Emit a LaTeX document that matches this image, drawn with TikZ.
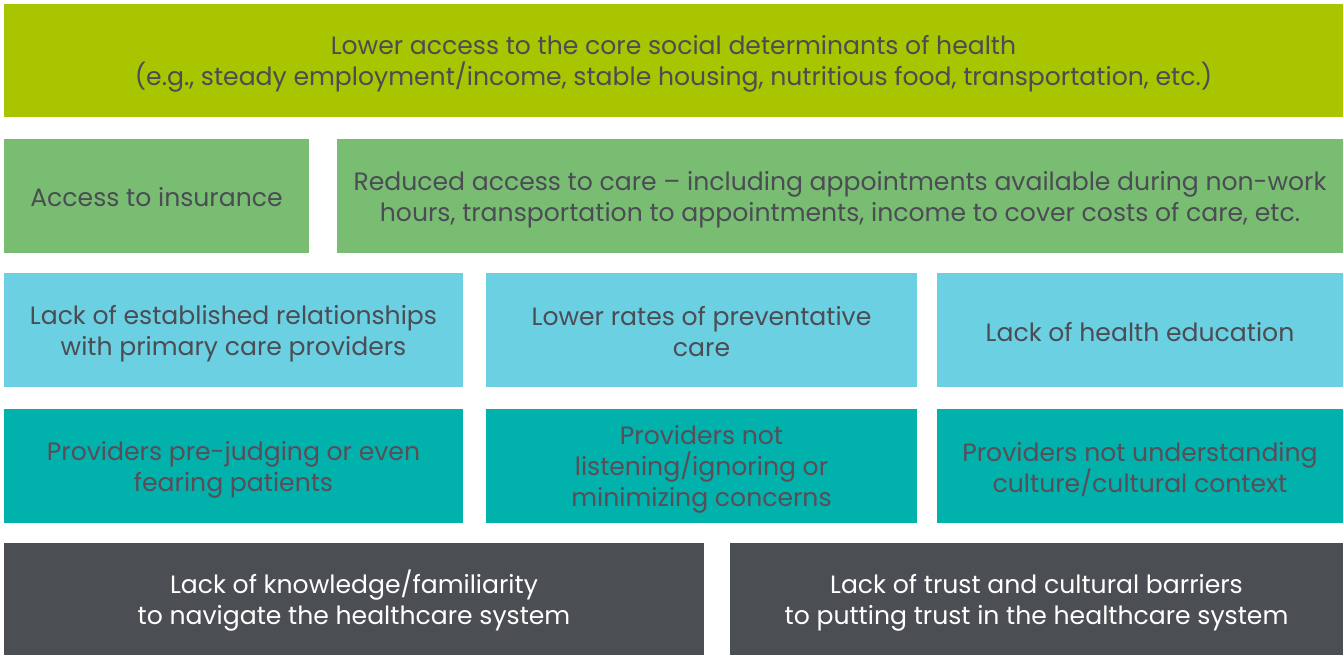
\documentclass[tikz,border=0pt]{standalone}
\usepackage{fontspec}
\setmainfont{Poppins}
\definecolor{cA}{HTML}{A8C500}
\definecolor{cB}{HTML}{79BD72}
\definecolor{cC}{HTML}{6AD0E2}
\definecolor{cD}{HTML}{00B1AC}
\definecolor{cE}{HTML}{4B4E53}
\definecolor{tDark}{HTML}{4B4C54}
\definecolor{tMauve}{HTML}{5A4D58}
\setlength{\lineskiplimit}{-100pt}
\newcommand\lnst{\rule[-4pt]{0pt}{30pt}}
\tikzset{
  box/.style={inner sep=0pt, outer sep=0pt, align=center, text=tDark,
    font=\fontsize{25.1}{31}\selectfont},
}
\begin{document}
\begin{tikzpicture}[x=1pt,y=-1pt]
\fill[white] (0,0) rectangle (1343,655);
\useasboundingbox (0,0) rectangle (1343,655);
% row 1
\node[box, fill=cA, minimum width=1339pt, minimum height=113pt] (r1) at (673.5,60.5)
  {\lnst Lower access to the core social determinants of health\\\lnst (e.g., steady employment/income, stable housing, nutritious food, transportation, etc.)};
% row 2
\node[box, fill=cB, minimum width=305pt, minimum height=114pt] (r2a) at (156.5,196) {\lnst Access to insurance};
\node[box, fill=cB, minimum width=1006pt, minimum height=114pt] (r2b) at (840,196)
  {\lnst Reduced access to care – including appointments available during non-work\\\lnst hours, transportation to appointments, income to cover costs of care, etc.};
% row 3
\node[box, fill=cC, minimum width=459pt, minimum height=114pt] (r3a) at (233.5,330)
  {\lnst Lack of established relationships\\\lnst with primary care providers};
\node[box, fill=cC, minimum width=431pt, minimum height=114pt] (r3b) at (701.5,330)
  {\lnst Lower rates of preventative\\\lnst care};
\node[box, fill=cC, minimum width=406pt, minimum height=114pt] (r3c) at (1140,330)
  {\lnst Lack of health education};
% row 4
\node[box, fill=cD, text=tMauve, minimum width=459pt, minimum height=114pt] (r4a) at (233.5,466)
  {\lnst Providers pre-judging or even\\\lnst fearing patients};
\node[box, fill=cD, text=tMauve, minimum width=431pt, minimum height=114pt] (r4b) at (701.5,466)
  {\lnst Providers not\\\lnst listening/ignoring or\\\lnst minimizing concerns};
\node[box, fill=cD, text=tMauve, minimum width=406pt, minimum height=114pt] (r4c) at (1140,466)
  {\lnst Providers not understanding\\\lnst culture/cultural context};
% row 5
\node[box, fill=cE, text=white, minimum width=700pt, minimum height=112pt] (r5a) at (354,599)
  {\lnst Lack of knowledge/familiarity\\\lnst to navigate the healthcare system};
\node[box, fill=cE, text=white, minimum width=613pt, minimum height=112pt] (r5b) at (1036.5,599)
  {\lnst Lack of trust and cultural barriers\\\lnst to putting trust in the healthcare system};
\end{tikzpicture}
\end{document}
